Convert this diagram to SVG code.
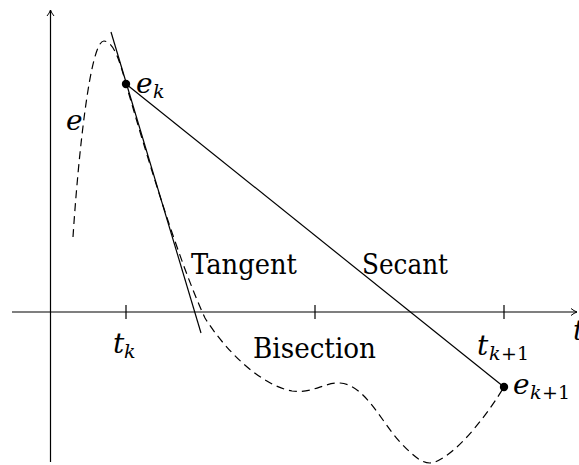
<svg xmlns="http://www.w3.org/2000/svg" width="579" height="465" viewBox="0 0 579 465">
<style>
.ax{stroke:#000;stroke-width:1.2;fill:none}
.ln{stroke:#000;stroke-width:1.2;fill:none}
.dash{stroke:#000;stroke-width:1.2;fill:none;stroke-dasharray:8 5}
text{fill:#000}
.lbl{font-size:28px}
.math{font-style:italic;font-size:28px}
.sub{font-style:italic;font-size:19px}
.subn{font-size:19px}
</style>
<defs>
<marker id="arr" markerWidth="10" markerHeight="10" refX="7" refY="5" orient="auto" markerUnits="userSpaceOnUse">
<path d="M1,1.5 Q4,4 7,5 Q4,6 1,8.5" fill="none" stroke="#000" stroke-width="1"/>
</marker>
</defs>
<g font-family="DejaVu Serif, serif">
<g id="axes">
<line class="ax" x1="12" y1="312" x2="577" y2="312" marker-end="url(#arr)"/>
<line class="ax" x1="50.5" y1="462" x2="50.5" y2="10" marker-end="url(#arr)"/>
<line class="ax" x1="126" y1="305" x2="126" y2="319"/>
<line class="ax" x1="315" y1="305" x2="315" y2="319"/>
<line class="ax" x1="504" y1="305" x2="504" y2="319"/>
<text class="math" x="573" y="340">t</text>
</g>
<g id="connectors">
<path id="curve-e" class="dash" d="M73,237 C78,160 90,40 104,41 C114,42 120,62 126,84 C145,150 178,260 205,318 C225,350 260,385 292,391 C312,394 325,382 340,383 C365,385 380,420 400,442 C415,458 425,466 435,462 C460,452 490,410 504,387"/>
<line id="tangent" class="ln" x1="111" y1="32" x2="201" y2="333"/>
<line id="secant" class="ln" x1="126" y1="84" x2="504" y2="387"/>
</g>
<g id="point-ek">
<circle cx="126" cy="84" r="4.2" fill="#000"/>
<text class="math" x="136" y="93">e</text>
<text class="sub" x="153" y="98">k</text>
</g>
<g id="point-ek1">
<circle cx="504" cy="387" r="4.2" fill="#000"/>
<text class="math" x="513" y="394">e</text>
<text class="sub" x="530" y="399">k</text>
<text class="subn" x="542" y="399">+1</text>
</g>
<g id="label-e"><text class="math" x="66" y="130">e</text></g>
<g id="label-tk">
<text class="math" x="113" y="353">t</text>
<text class="sub" x="124" y="358">k</text>
</g>
<g id="label-tk1">
<text class="math" x="477" y="355">t</text>
<text class="sub" x="489" y="360">k</text>
<text class="subn" x="501" y="360">+1</text>
</g>
<g id="label-tangent"><text class="lbl" x="191" y="274" textLength="106" lengthAdjust="spacingAndGlyphs">Tangent</text></g>
<g id="label-secant"><text class="lbl" x="362" y="274" textLength="86" lengthAdjust="spacingAndGlyphs">Secant</text></g>
<g id="label-bisection"><text class="lbl" x="253" y="358" textLength="123" lengthAdjust="spacingAndGlyphs">Bisection</text></g>
</g>
</svg>
